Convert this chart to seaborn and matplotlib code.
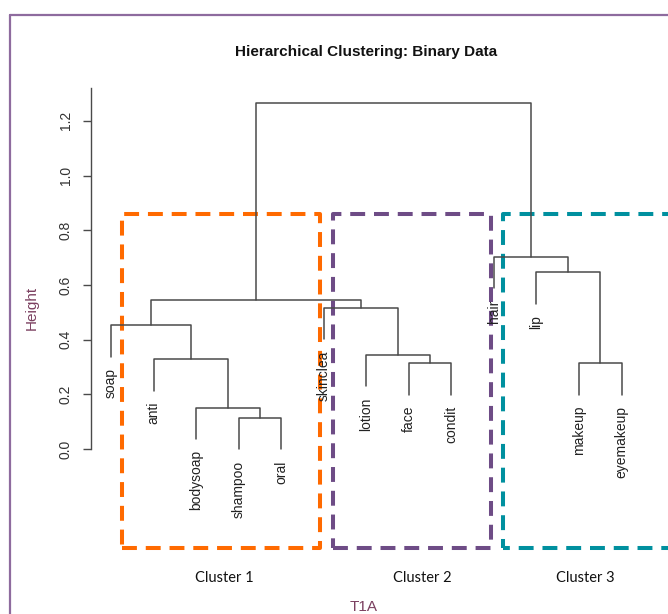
import pandas as pd
import seaborn as sns
import matplotlib.pyplot as plt
from matplotlib.patches import Rectangle
from matplotlib.lines import Line2D

# Leaf labels in dendrogram order
leaves = ['soap', 'anti', 'bodysoap', 'shampoo', 'oral', 'skinclea', 'lotion',
          'face', 'condit', 'hair', 'lip', 'makeup', 'eyemakeup']

# Merge steps (R hclust style): negative = leaf number, positive = earlier merge
merge_left = [-4, -3, -8, -12, -2, -7, -1, -6, 7, -11, -10, 9]
merge_right = [-5, 1, -9, -13, 2, 3, 5, 6, 8, 4, 10, 11]
merge_height = [0.114, 0.151, 0.314, 0.313, 0.328, 0.344, 0.452, 0.517,
                0.545, 0.646, 0.703, 1.264]

cluster_names = ['Cluster 1', 'Cluster 2', 'Cluster 3']

# Build dendrogram segments
hang = 0.1 * (max(merge_height) - min(merge_height))
leaf_x = {i + 1: i + 1 for i in range(len(leaves))}
node_x = {}
rows = []
leaf_ends = []


def child_pos(c, parent_h):
    if c < 0:
        x = leaf_x[-c]
        leaf_ends.append((x, parent_h - hang, leaves[-c - 1]))
        return x, parent_h - hang
    return node_x[c], merge_height[c - 1]


for k, (a, b, h) in enumerate(zip(merge_left, merge_right, merge_height), start=1):
    xa, ya = child_pos(a, h)
    xb, yb = child_pos(b, h)
    node_x[k] = (xa + xb) / 2
    for px, py in [(xa, ya), (xa, h), (xb, h), (xb, yb)]:
        rows.append({'link': k, 'x': px, 'y': py})

seg = pd.DataFrame(rows)

sns.set_theme(style="white")
plt.rcParams['font.family'] = ['Liberation Sans', 'DejaVu Sans']

fig = plt.figure(figsize=(6.68, 6.14), dpi=100)
ax = fig.add_axes([0.1356, 0.046, 0.8254, 0.824])

sns.lineplot(data=seg, x='x', y='y', units='link', estimator=None, sort=False,
             color='#4a4a4a', linewidth=1.1, ax=ax)

for x, y, name in leaf_ends:
    ax.annotate(name, (x, y), xytext=(0, -8), textcoords='offset points',
                rotation=90, ha='center', va='top', fontsize=10, color='#222222')

ax.set_xlim(0.52, 13.48)
ax.set_ylim(-0.5, 1.35)
ax.set_xticks([])
ax.set_yticks([0.0, 0.2, 0.4, 0.6, 0.8, 1.0, 1.2])
ax.set_yticklabels(['0.0', '0.2', '0.4', '0.6', '0.8', '1.0', '1.2'],
                   rotation=90, va='center', fontsize=10, color='#333333')
ax.tick_params(axis='y', left=True, length=6, width=1.0, color='#4a4a4a', pad=7)
for s in ['top', 'right', 'bottom']:
    ax.spines[s].set_visible(False)
ax.spines['left'].set_bounds(0, 1.32)
ax.spines['left'].set_color('#4a4a4a')
ax.spines['left'].set_linewidth(1.0)
ax.set_xlabel('')
ax.set_ylabel('')

# Title and axis labels
fig.text(366 / 668, 1 - 52 / 614, 'Hierarchical Clustering: Binary Data',
         ha='center', va='center', fontsize=11, fontweight='bold', color='#111111')
fig.text(32 / 668, 1 - 308 / 614, 'Height', rotation=90, ha='center',
         va='center', fontsize=11, color='#7b4060')
fig.text(364 / 668, 1 - 607 / 614, 'T1A', ha='center', va='center',
         fontsize=11, color='#7b4060')

# Dashed cluster boxes
box_spans = [(1.259, 5.912, '#ff6a00', 0), (6.217, 9.93, '#6e4c86', 0),
             (10.21, 15.5, '#00909f', 2.0)]
for (x0, x1, col, off), name in zip(box_spans, cluster_names):
    ax.add_patch(Rectangle((x0, -0.362), x1 - x0, 0.858 + 0.362, fill=False,
                           edgecolor=col, linewidth=2.9,
                           linestyle=(off, (3.7, 2.2)), joinstyle='round',
                           clip_on=False))

for name, cx in zip(cluster_names, [3.656, 8.31, 12.16]):
    ax.text(cx, -0.472, name, ha='center', va='center', fontsize=10.5,
            family='Lato', color='#111111', clip_on=False)

# Outer purple frame
frame_col = '#8e6b9e'
fig.add_artist(Line2D([10 / 668, 10 / 668], [0, 1 - 15 / 614],
                      transform=fig.transFigure, color=frame_col, linewidth=1.6))
fig.add_artist(Line2D([10 / 668, 1], [1 - 15 / 614, 1 - 15 / 614],
                      transform=fig.transFigure, color=frame_col, linewidth=1.6))

fig.savefig('out.png', dpi=100)
